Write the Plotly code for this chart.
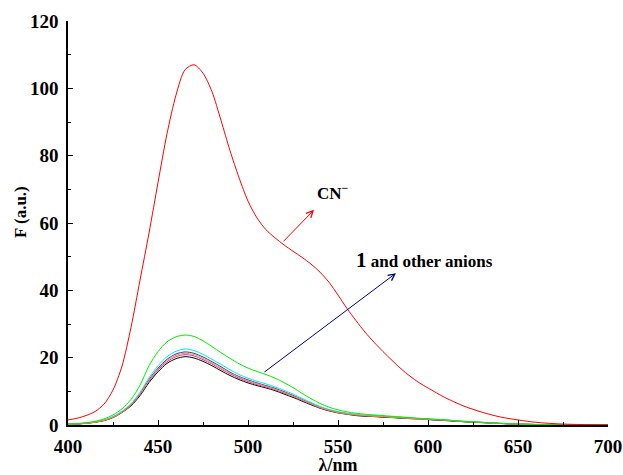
import plotly.graph_objects as go

wavelength = [400, 405, 410, 415, 420, 425, 430, 435, 440, 445, 450, 455, 460, 465, 470, 475, 480, 485,
              490, 495, 500, 505, 510, 515, 520, 525, 530, 535, 540, 545, 550, 555, 560, 565, 570, 575,
              580, 585, 590, 595, 600, 610, 620, 630, 640, 650, 660, 670, 680, 690, 700]

cn = [1.5, 2.0, 2.8, 4.0, 6.2, 10.4, 17.5, 29, 43, 57, 72, 86.5, 98, 105.5, 107, 104.5, 99, 90.5,
      81.5, 73.5, 66.5, 61.5, 58, 55.6, 53.5, 51.6, 49.8, 47.8, 45.4, 42.4, 38.6, 34.6, 31, 27.6, 24.6, 21.8,
      19.2, 16.7, 14.5, 12.6, 11, 8, 5.6, 3.8, 2.4, 1.5, 0.8, 0.4, 0.2, 0.1, 0.05]

green = [0.3, 0.4, 0.7, 1.1, 1.8, 3.0, 4.8, 7.6, 11.8, 17.6, 21.8, 24.7, 26.2, 26.7, 26.3, 25.0, 23.3, 21.5,
         19.8, 18.2, 16.9, 15.9, 15.0, 13.9, 12.6, 11.1, 9.4, 7.8, 6.4, 5.3, 4.5, 3.9, 3.5, 3.2, 3.0, 2.8,
         2.6, 2.4, 2.2, 2.0, 1.85, 1.5, 1.1, 0.8, 0.5, 0.3, 0.15, 0.08, 0.04, 0.02, 0]

cyan = [0.23, 0.34, 0.57, 0.9, 1.5, 2.5, 4.1, 6.3, 9.7, 14.0, 17.6, 20.3, 21.9, 22.6, 22.1, 21.0, 19.5, 18.0,
        16.4, 15.0, 13.9, 13.0, 12.2, 11.3, 10.3, 9.2, 7.9, 6.7, 5.5, 4.6, 4.0, 3.5, 3.2, 2.9, 2.8, 2.6,
        2.4, 2.3, 2.1, 1.9, 1.8, 1.5, 1.1, 0.8, 0.5, 0.3, 0.16, 0.09, 0.05, 0.02, 0]

blue = [0.22, 0.33, 0.54, 0.87, 1.4, 2.4, 3.9, 6.1, 9.3, 13.5, 16.9, 19.5, 21.1, 21.7, 21.3, 20.2, 18.8, 17.3,
        15.7, 14.4, 13.4, 12.5, 11.7, 10.9, 9.9, 8.8, 7.6, 6.4, 5.3, 4.5, 3.8, 3.4, 3.0, 2.8, 2.7, 2.5,
        2.3, 2.2, 2.0, 1.9, 1.7, 1.4, 1.0, 0.76, 0.48, 0.28, 0.15, 0.09, 0.04, 0.02, 0]

orange = [0.21, 0.32, 0.53, 0.85, 1.4, 2.3, 3.8, 6.0, 9.2, 13.2, 16.6, 19.2, 20.7, 21.3, 20.9, 19.8, 18.4, 16.9,
          15.4, 14.2, 13.1, 12.3, 11.5, 10.7, 9.7, 8.6, 7.5, 6.3, 5.2, 4.4, 3.7, 3.3, 3.0, 2.8, 2.6, 2.5,
          2.3, 2.1, 2.0, 1.8, 1.7, 1.4, 1.0, 0.75, 0.47, 0.28, 0.15, 0.09, 0.04, 0.02, 0]

purple = [0.21, 0.31, 0.52, 0.84, 1.4, 2.3, 3.8, 5.9, 9.0, 13.0, 16.3, 18.8, 20.3, 20.9, 20.5, 19.4, 18.1, 16.6,
          15.2, 13.9, 12.9, 12.0, 11.3, 10.5, 9.5, 8.5, 7.3, 6.2, 5.1, 4.3, 3.7, 3.2, 2.9, 2.7, 2.6, 2.4,
          2.3, 2.1, 1.9, 1.8, 1.7, 1.4, 1.0, 0.73, 0.46, 0.27, 0.15, 0.08, 0.04, 0.02, 0]

black = [0.2, 0.3, 0.51, 0.81, 1.3, 2.2, 3.7, 5.7, 8.7, 12.6, 15.8, 18.3, 19.7, 20.3, 19.9, 18.9, 17.6, 16.1,
         14.7, 13.5, 12.5, 11.7, 11.0, 10.2, 9.2, 8.2, 7.1, 6.0, 5.0, 4.2, 3.6, 3.2, 2.8, 2.6, 2.5, 2.3,
         2.2, 2.0, 1.9, 1.8, 1.6, 1.3, 0.97, 0.71, 0.45, 0.26, 0.14, 0.08, 0.04, 0.02, 0]

x_ticks = [400, 450, 500, 550, 600, 650, 700]
y_ticks = [0, 20, 40, 60, 80, 100, 120]

series = [
    (black, "#000000"),
    (purple, "#cc33cc"),
    (blue, "#2233ee"),
    (cyan, "#00e5ff"),
    (orange, "#ff9900"),
    (green, "#00ee00"),
    (cn, "#ff0000"),
]
for ys, _ in series:
    assert len(ys) == len(wavelength)

fig = go.Figure()
for ys, col in series:
    fig.add_trace(go.Scatter(x=wavelength, y=ys, mode="lines",
                             line=dict(color=col, width=1, shape="spline", smoothing=0.8),
                             showlegend=False, hoverinfo="skip"))

font_family = "Liberation Serif, Times New Roman, serif"

fig.add_annotation(x=536.7, y=63.9, ax=518.9, ay=54.1, xref="x", yref="y", axref="x", ayref="y",
                   showarrow=True, arrowhead=5, arrowsize=1.3, arrowwidth=1, arrowcolor="#ff0000", text="")
fig.add_annotation(x=582.2, y=45.1, ax=508.3, ay=15.4, xref="x", yref="y", axref="x", ayref="y",
                   showarrow=True, arrowhead=5, arrowsize=1.3, arrowwidth=1, arrowcolor="#000080", text="")
fig.add_annotation(x=547, y=69.2, xref="x", yref="y", showarrow=False,
                   text="<b>CN<sup>−</sup></b>", font=dict(family=font_family, size=17, color="black"))
fig.add_annotation(x=598, y=49, xref="x", yref="y", showarrow=False,
                   text="<b><span style='font-size:21px'>1</span> and other anions</b>",
                   font=dict(family=font_family, size=17, color="black"))
fig.add_annotation(x=-48 / 540, y=(425 - 212) / 404, xref="paper", yref="paper", showarrow=False,
                   text="<b>F (a.u.)</b>", textangle=-90, xanchor="center", yanchor="middle",
                   font=dict(family=font_family, size=17, color="black"))

fig.update_layout(
    width=623, height=475,
    margin=dict(l=68, r=15, t=21, b=50, autoexpand=False),
    paper_bgcolor="white", plot_bgcolor="white",
    font=dict(family=font_family, size=17, color="black"),
    xaxis=dict(range=[400, 700], tickvals=x_ticks, ticktext=[f"<b>{v}</b>" for v in x_ticks],
               ticks="inside", ticklen=5, tickwidth=1, tickcolor="black",
               minor=dict(dtick=25, ticks="inside", ticklen=3, tickcolor="black"),
               showline=True, linecolor="black", linewidth=1.5, showgrid=False, zeroline=False,
               automargin=False, ticklabelstandoff=3,
               tickfont=dict(size=19, family=font_family),
               title=dict(text="<b>λ/nm</b>", font=dict(size=18), standoff=0)),
    yaxis=dict(range=[0, 120], tickvals=y_ticks, ticktext=[f"<b>{v}</b>" for v in y_ticks],
               ticks="inside", ticklen=5, tickwidth=1, tickcolor="black",
               minor=dict(dtick=10, ticks="inside", ticklen=3, tickcolor="black"),
               showline=True, linecolor="black", linewidth=1.5, showgrid=False, zeroline=False,
               automargin=False, ticklabelstandoff=4,
               tickfont=dict(size=19, family=font_family)),
)

fig.write_html("out.html", config={"displayModeBar": False},
               post_script="document.body.style.margin='0';document.body.style.overflow='hidden';")
